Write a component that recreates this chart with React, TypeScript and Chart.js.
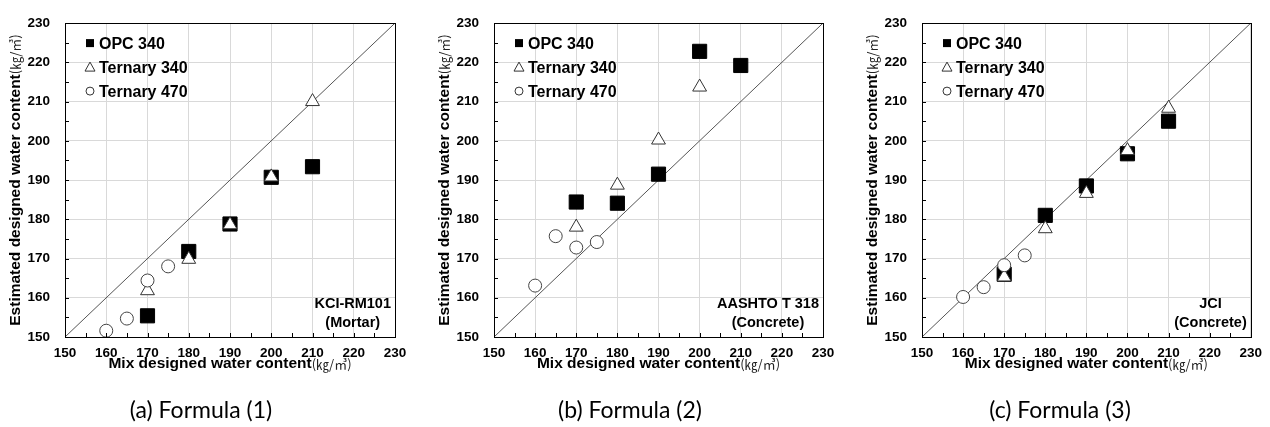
import React, { useEffect, useRef } from 'react';
import { Chart, registerables } from 'chart.js';

Chart.register(...registerables);

// ---------------- data ----------------
const axisMin = 150;
const axisMax = 230;
const axisStep = 10;
const xMain = [170, 180, 190, 200, 210];
const xT470 = [160, 165, 170, 175];

const opcA = [155.4, 171.8, 178.8, 190.7, 193.4];
const t340A = [161.8, 169.8, 178.6, 190.8, 210.0];
const t470A = [151.6, 154.7, 164.4, 168.0];

const opcB = [184.4, 184.1, 191.5, 222.8, 219.2];
const t340B = [178.0, 188.7, 200.2, 213.7];
const xT340B = [170, 180, 190, 200];
const t470B = [163.1, 175.7, 172.8, 174.2];

const opcC = [166.0, 181.0, 188.5, 196.7, 205.0];
const t340C = [165.3, 177.6, 186.6, 197.5, 208.3];
const t470C = [160.2, 162.7, 168.3, 170.8];

const diagonal = [150, 230];

const legendLabels = ['OPC 340', 'Ternary 340', 'Ternary 470'];
const captions = ['(a) Formula (1)', '(b) Formula (2)', '(c) Formula (3)'];
const notes = [
  ['KCI-RM101', '(Mortar)'],
  ['AASHTO T 318', '(Concrete)'],
  ['JCI', '(Concrete)'],
];
const xTitle = 'Mix designed water content';
const yTitle = 'Estimated designed water content';
const unitText = '(㎏/㎥)';

// ---------------- layout ----------------
const H = 427;
const panels = [
  { left: 0, width: 420, axisW: 65, padRight: 25, captionX: 201 },
  { left: 420, width: 430, axisW: 74, padRight: 27, captionX: 630 },
  { left: 850, width: 420, axisW: 72, padRight: 18, captionX: 1060 },
];

const BOLD = "'Liberation Sans', Arial, sans-serif";
const UNITF = "'Noto Sans CJK KR', 'Noto Sans', sans-serif";

const decorPlugin = {
  id: 'decor',
  afterDraw(chart: any) {
    const { ctx, chartArea: a, scales } = chart;
    const xs = scales.x;
    const ys = scales.y;
    const note: string[] = chart.options.plugins.decor.note;
    ctx.save();
    // minor inside ticks
    ctx.strokeStyle = '#000';
    ctx.lineWidth = 1;
    ctx.beginPath();
    for (let v = axisMin; v <= axisMax; v += 5) {
      const px = Math.round(xs.getPixelForValue(v)) + 0.5;
      ctx.moveTo(px, a.bottom);
      ctx.lineTo(px, a.bottom - 4);
      const py = Math.round(ys.getPixelForValue(v)) + 0.5;
      ctx.moveTo(a.left, py);
      ctx.lineTo(a.left + 4, py);
    }
    ctx.stroke();
    // frame
    ctx.strokeRect(Math.round(a.left) + 0.5, Math.round(a.top) + 0.5, Math.round(a.right - a.left), Math.round(a.bottom - a.top));

    // legend
    const lx = a.left + 25;
    const tx = a.left + 34;
    const rows = [a.top + 20, a.top + 44, a.top + 68];
    ctx.fillStyle = '#000';
    ctx.fillRect(lx - 4, rows[0] - 4, 8, 8);
    ctx.strokeStyle = '#333';
    ctx.fillStyle = '#fff';
    ctx.beginPath();
    ctx.moveTo(lx, rows[1] - 5);
    ctx.lineTo(lx + 5, rows[1] + 4);
    ctx.lineTo(lx - 5, rows[1] + 4);
    ctx.closePath();
    ctx.fill();
    ctx.stroke();
    ctx.beginPath();
    ctx.arc(lx, rows[2], 4, 0, Math.PI * 2);
    ctx.fill();
    ctx.stroke();
    ctx.fillStyle = '#000';
    ctx.font = `bold 16px ${BOLD}`;
    ctx.textAlign = 'left';
    ctx.textBaseline = 'middle';
    legendLabels.forEach((t, i) => ctx.fillText(t, tx, rows[i] + 1));

    // note
    ctx.font = `bold 14.5px ${BOLD}`;
    const wMax = Math.max(...note.map((t) => ctx.measureText(t).width));
    const cx = a.right - 4 - wMax / 2;
    ctx.textAlign = 'center';
    ctx.fillText(note[0], cx, a.bottom - 33);
    ctx.fillText(note[1], cx, a.bottom - 14);

    // axis titles (bold part + thin unit)
    const drawTitle = (text: string, cx0: number, cy0: number, rot: boolean) => {
      ctx.save();
      ctx.translate(cx0, cy0);
      if (rot) ctx.rotate(-Math.PI / 2);
      ctx.textAlign = 'left';
      ctx.textBaseline = 'middle';
      ctx.font = `bold 15.5px ${BOLD}`;
      const w1 = ctx.measureText(text).width;
      ctx.font = `13px ${UNITF}`;
      const w2 = ctx.measureText(unitText).width;
      const start = -(w1 + w2) / 2;
      ctx.font = `bold 15.5px ${BOLD}`;
      ctx.fillStyle = '#000';
      ctx.fillText(text, start, 0);
      ctx.font = `13px ${UNITF}`;
      ctx.fillStyle = '#222';
      ctx.fillText(unitText, start + w1, 0);
      ctx.restore();
    };
    drawTitle(xTitle, (a.left + a.right) / 2, a.bottom + 27, false);
    drawTitle(yTitle, a.left - 49.5, (a.top + a.bottom) / 2, true);
    ctx.restore();
  },
};

type PanelData = {
  opcX: number[];
  opc: number[];
  t340X: number[];
  t340: number[];
  t470X: number[];
  t470: number[];
  note: string[];
};

const panelData: PanelData[] = [
  { opcX: xMain, opc: opcA, t340X: xMain, t340: t340A, t470X: xT470, t470: t470A, note: notes[0] },
  { opcX: xMain, opc: opcB, t340X: xT340B, t340: t340B, t470X: xT470, t470: t470B, note: notes[1] },
  { opcX: xMain, opc: opcC, t340X: xMain, t340: t340C, t470X: xT470, t470: t470C, note: notes[2] },
];

const toPts = (xs: number[], ys: number[]) => xs.map((x, i) => ({ x, y: ys[i] }));

function Panel({ idx }: { idx: number }) {
  const ref = useRef<HTMLCanvasElement | null>(null);
  const p = panels[idx];
  const d = panelData[idx];
  useEffect(() => {
    if (!ref.current) return;
    const tickFont = { family: BOLD, size: 13.5, weight: 'bold' as const };
    const chart = new Chart(ref.current, {
      type: 'scatter',
      data: {
        datasets: [
          {
            label: 'y=x',
            data: toPts(diagonal, diagonal),
            showLine: true,
            borderColor: '#555',
            borderWidth: 1,
            pointRadius: 0,
            order: 4,
          },
          {
            label: legendLabels[0],
            data: toPts(d.opcX, d.opc),
            pointStyle: 'rect',
            pointRadius: 10,
            backgroundColor: '#000',
            borderColor: '#000',
            borderWidth: 1,
            order: 3,
            clip: false,
          },
          {
            label: legendLabels[1],
            data: toPts(d.t340X, d.t340),
            pointStyle: 'triangle',
            pointRadius: 8,
            backgroundColor: '#fff',
            borderColor: '#333',
            borderWidth: 1,
            order: 2,
            clip: false,
          },
          {
            label: legendLabels[2],
            data: toPts(d.t470X, d.t470),
            pointStyle: 'circle',
            pointRadius: 6.5,
            backgroundColor: '#fff',
            borderColor: '#444',
            borderWidth: 1,
            order: 1,
            clip: false,
          },
        ],
      },
      options: {
        responsive: false,
        animation: false,
        devicePixelRatio: 1,
        layout: { padding: { top: 17, right: p.padRight, bottom: 0, left: 0 } },
        plugins: {
          legend: { display: false },
          tooltip: { enabled: false },
          decor: { note: d.note },
        } as any,
        scales: {
          x: {
            type: 'linear',
            min: axisMin,
            max: axisMax,
            ticks: { stepSize: axisStep, color: '#000', font: tickFont, padding: 8 },
            grid: { color: '#d9d9d9', drawTicks: false },
            border: { display: false },
            afterFit: (s: any) => {
              s.height = H - 337;
            },
          },
          y: {
            type: 'linear',
            min: axisMin,
            max: axisMax,
            ticks: { stepSize: axisStep, color: '#000', font: tickFont, padding: 15 },
            grid: { color: '#d9d9d9', drawTicks: false },
            border: { display: false },
            afterFit: (s: any) => {
              s.width = p.axisW;
            },
          },
        },
      },
      plugins: [decorPlugin],
    });
    return () => chart.destroy();
  }, [idx]);
  return (
    <canvas
      ref={ref}
      width={p.width}
      height={H}
      style={{ position: 'absolute', left: p.left, top: 0, width: p.width, height: H }}
    />
  );
}

export default function App() {
  return (
    <div style={{ position: 'absolute', left: 0, top: 0, width: 1270, height: H, background: '#fff', overflow: 'hidden' }}>
      {panels.map((_, i) => (
        <Panel key={i} idx={i} />
      ))}
      {panels.map((p, i) => (
        <div
          key={'c' + i}
          style={{
            position: 'absolute',
            left: p.captionX - 120,
            width: 240,
            top: 396,
            textAlign: 'center',
            font: "23px Lato, 'Open Sans', sans-serif",
            lineHeight: '27px',
            color: '#000',
            whiteSpace: 'nowrap',
          }}
        >
          {captions[i]}
        </div>
      ))}
    </div>
  );
}
